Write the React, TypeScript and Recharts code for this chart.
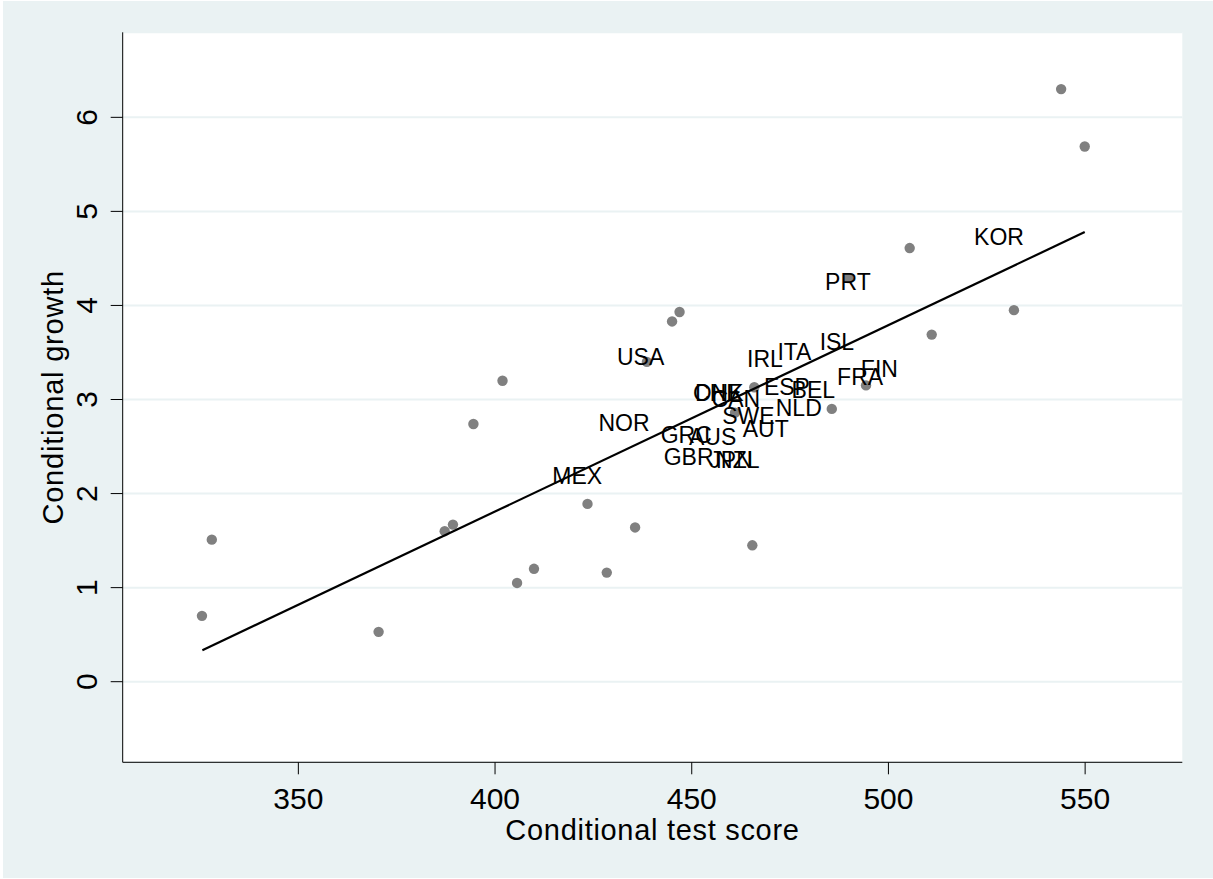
import { ScatterChart, Scatter, XAxis, YAxis, CartesianGrid, Label } from "recharts";

document.body.style.margin = "0";

const FONT = "'Liberation Sans', Arial, Helvetica, sans-serif";

// grey dots: conditional test score / conditional growth
const dotScore = [325.5, 328.0, 370.4, 387.2, 389.3, 394.5, 401.9, 405.6, 409.9, 423.5, 428.4, 435.6, 438.6, 445.0, 446.9, 461.0, 465.4, 465.9, 485.6, 489.8, 494.3, 505.4, 511.0, 531.9, 543.9, 549.9];
const dotGrowth = [0.70, 1.51, 0.53, 1.60, 1.67, 2.74, 3.20, 1.05, 1.20, 1.89, 1.16, 1.64, 3.40, 3.83, 3.93, 2.86, 1.45, 3.13, 2.90, 4.29, 3.15, 4.61, 3.69, 3.95, 6.30, 5.69];

// country labels
const countries = ["USA", "IRL", "ITA", "ISL", "FIN", "FRA", "ESP", "BEL", "NLD", "AUT", "SWE", "CHE", "DNK", "CAN", "NOR", "GRC", "AUS", "GBR", "JPN", "NZL", "MEX", "PRT", "KOR"];
const labelScore = [437.0, 468.6, 476.1, 486.9, 497.7, 492.8, 474.2, 480.9, 477.2, 468.8, 464.4, 456.5, 457.0, 461.2, 432.8, 448.6, 455.3, 449.2, 460.0, 461.7, 420.9, 489.7, 528.1];
const labelGrowth = [3.45, 3.43, 3.50, 3.61, 3.32, 3.24, 3.13, 3.10, 2.91, 2.69, 2.82, 3.07, 3.07, 3.01, 2.75, 2.62, 2.60, 2.39, 2.36, 2.36, 2.19, 4.25, 4.73];

// fitted line end points
const fitScore = [325.6, 549.9];
const fitGrowth = [0.335, 4.78];

const xTicks = [350, 400, 450, 500, 550];
const yTicks = [0, 1, 2, 3, 4, 5, 6];

const dots = dotScore.map((x, i) => ({ x, y: dotGrowth[i] }));
const labels = countries.map((name, i) => ({ name, x: labelScore[i], y: labelGrowth[i] }));
const fit = fitScore.map((x, i) => ({ x, y: fitGrowth[i] }));

const XTick = ({ x, y, payload }: any) => (
  <text x={x} y={y} dy={33} textAnchor="middle" fontSize={30} fontFamily={FONT} fill="#000">
    {payload.value}
  </text>
);

const YTick = ({ x, y, payload }: any) => (
  <text x={x} y={y} transform={`rotate(-90, ${x}, ${y})`} textAnchor="middle" fontSize={30} fontFamily={FONT} fill="#000">
    {payload.value}
  </text>
);

const Dot = ({ cx, cy }: any) => <circle cx={cx} cy={cy} r={5.2} fill="#808080" />;

const CountryLabel = ({ cx, cy, payload }: any) => (
  <text x={cx} y={cy} dy={8} textAnchor="middle" fontSize={23} fontFamily={FONT} fill="#000">
    {payload.name}
  </text>
);

export default function App() {
  return (
    <div style={{ width: 1213, height: 879, background: "#fff", position: "relative" }}>
      <div style={{ position: "absolute", left: 3, top: 1, width: 1210, height: 877, background: "#eaf2f3" }} />
      <div style={{ position: "absolute", left: 0, top: 0 }}>
        <ScatterChart width={1213} height={879} margin={{ top: 32.3, right: 30.7, bottom: 0, left: 0 }}>
          <CartesianGrid vertical={false} stroke="#eaf2f3" strokeWidth={2} fill="#fff" />
          <XAxis
            type="number"
            dataKey="x"
            domain={[305.35, 574.7]}
            ticks={xTicks}
            allowDataOverflow
            height={116.7}
            stroke="#000"
            tickSize={12}
            tickMargin={2}
            tick={<XTick />}
          >
            <Label
              content={(p: any) => {
                const vb = p.viewBox;
                return (
                  <text x={vb.x + vb.width / 2} y={vb.y + 78} textAnchor="middle" fontSize={29} letterSpacing={0.7} fontFamily={FONT} fill="#000">
                    Conditional test score
                  </text>
                );
              }}
            />
          </XAxis>
          <YAxis
            type="number"
            dataKey="y"
            domain={[-0.857, 6.904]}
            ticks={yTicks}
            allowDataOverflow
            width={122.7}
            stroke="#000"
            tickSize={12}
            tickMargin={14}
            tick={<YTick />}
          >
            <Label
              content={(p: any) => {
                const vb = p.viewBox;
                const cx = vb.x + 63.3;
                const cy = vb.y + vb.height / 2;
                return (
                  <text x={cx} y={cy} transform={`rotate(-90, ${cx}, ${cy})`} textAnchor="middle" fontSize={29} letterSpacing={0.8} fontFamily={FONT} fill="#000">
                    Conditional growth
                  </text>
                );
              }}
            />
          </YAxis>
          <Scatter data={dots} shape={<Dot />} isAnimationActive={false} />
          <Scatter data={labels} shape={<CountryLabel />} isAnimationActive={false} />
          <Scatter
            data={fit}
            line={{ stroke: "#000", strokeWidth: 2.2 }}
            lineType="joint"
            shape={() => <g />}
            isAnimationActive={false}
          />
        </ScatterChart>
      </div>
    </div>
  );
}
